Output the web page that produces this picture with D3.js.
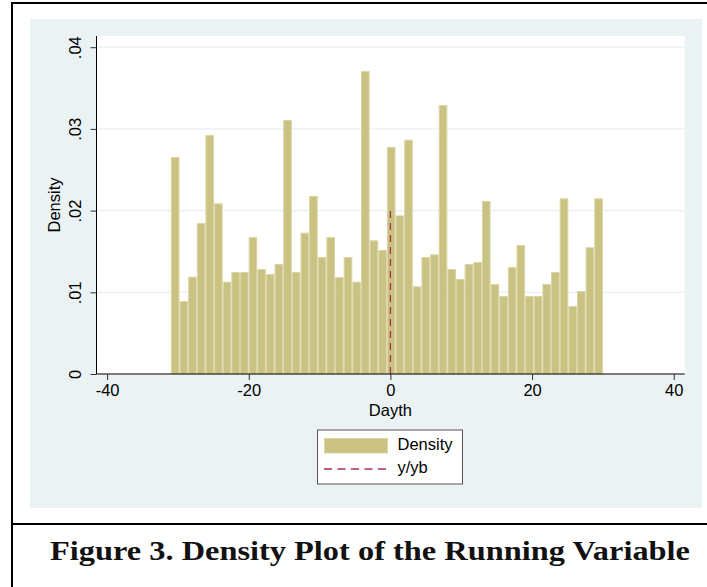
<!DOCTYPE html>
<html>
<head>
<meta charset="utf-8">
<script src="https://cdn.jsdelivr.net/npm/d3@7"></script>
<style>
  html, body { margin: 0; padding: 0; background: #ffffff; }
  svg { display: block; }
</style>
</head>
<body>
<script>
// ---- data ----
const binStart = -31;
const binWidth = 1.22;
const densities = [
  0.02656, 0.00893, 0.01191, 0.01848, 0.02925, 0.02089, 0.01130, 0.01248, 0.01248, 0.01677,
  0.01285, 0.01224, 0.01346, 0.03109, 0.01248, 0.01730, 0.02179, 0.01432, 0.01677, 0.01187,
  0.01432, 0.01130, 0.03710, 0.01636, 0.01518, 0.02778, 0.01942, 0.02868, 0.01073, 0.01432,
  0.01465, 0.03293, 0.01285, 0.01163, 0.01346, 0.01371, 0.02118, 0.01102, 0.00955, 0.01310,
  0.01579, 0.00955, 0.00955, 0.01102, 0.01248, 0.02150, 0.00832, 0.01016, 0.01551, 0.02150
];
const cutoffX = 0;
const cutoffTop = 0.02;
const xTicks = [-40, -20, 0, 20, 40];
const yTicks = [0, 0.01, 0.02, 0.03, 0.04];
const xTitle = "Dayth";
const yTitle = "Density";
const legendLabels = ["Density", "y/yb"];
const caption = "Figure 3. Density Plot of the Running Variable";

// ---- layout ----
const W = 707, H = 587;
const svg = d3.select("body").append("svg").attr("width", W).attr("height", H);

svg.append("rect").attr("x", 0).attr("y", 0).attr("width", W).attr("height", H).attr("fill", "#ffffff");
svg.append("rect").attr("x", 30).attr("y", 19).attr("width", 672).attr("height", 489).attr("fill", "#eaf2f3");

const plot = { left: 96.5, right: 684.7, top: 36, bottom: 374 };
svg.append("rect").attr("x", plot.left).attr("y", plot.top)
  .attr("width", plot.right - plot.left).attr("height", plot.bottom - plot.top).attr("fill", "#ffffff");

const x = d3.scaleLinear().domain([-41.5, 41.55]).range([plot.left, plot.right]);
const y = d3.scaleLinear().domain([0, 0.04137]).range([plot.bottom, plot.top]);

// gridlines
svg.append("g").selectAll("line").data(yTicks.filter(d => d > 0)).join("line")
  .attr("x1", plot.left).attr("x2", plot.right)
  .attr("y1", d => y(d)).attr("y2", d => y(d))
  .attr("stroke", "#e8eff1").attr("stroke-width", 1.2);

// bars
const bins = densities.map((v, i) => ({ x0: binStart + i * binWidth, x1: binStart + (i + 1) * binWidth, v }));
svg.append("g").selectAll("rect").data(bins).join("rect")
  .attr("x", d => x(d.x0) + 0.5)
  .attr("width", d => x(d.x1) - x(d.x0) - 1)
  .attr("y", d => y(d.v) + 0.5)
  .attr("height", d => y(0) - y(d.v) - 0.5)
  .attr("fill", "#cac282")
  .attr("stroke", "#dbd6a6")
  .attr("stroke-width", 1);

// cutoff dashed line
svg.append("line")
  .attr("x1", x(cutoffX)).attr("x2", x(cutoffX))
  .attr("y1", y(0)).attr("y2", y(cutoffTop))
  .attr("stroke", "#a8324f").attr("stroke-width", 1.3)
  .attr("stroke-dasharray", "7,5");

const fontFam = "'Liberation Sans', Arial, sans-serif";
const fs = 16.5;

// x axis
const xAxis = svg.append("g").attr("transform", `translate(0,${plot.bottom})`)
  .call(d3.axisBottom(x).tickValues(xTicks).tickSize(6).tickSizeOuter(0).tickFormat(d => String(d)));
xAxis.select(".domain").attr("stroke", "#000").attr("d", `M${plot.left},0H${plot.right}`);
xAxis.selectAll(".tick line").attr("stroke", "#333");
xAxis.selectAll("text").attr("font-family", fontFam).attr("font-size", fs).attr("fill", "#000")
  .attr("y", 22).attr("dy", "0");

// y axis
const yFmt = d => d === 0 ? "0" : d3.format(".2f")(d).replace(/^0/, "");
const yAxis = svg.append("g").attr("transform", `translate(${plot.left},0)`)
  .call(d3.axisLeft(y).tickValues(yTicks).tickSize(6).tickSizeOuter(0).tickFormat(yFmt));
yAxis.select(".domain").attr("stroke", "#000").attr("d", `M0,${plot.top}V${plot.bottom}`);
yAxis.selectAll(".tick line").attr("stroke", "#333");
yAxis.selectAll("text").attr("font-family", fontFam).attr("font-size", fs).attr("fill", "#000")
  .attr("transform", "rotate(-90)").attr("x", 0).attr("y", -15.5).attr("dy", "0")
  .attr("text-anchor", "middle");

// axis titles
svg.append("text").attr("x", x(0)).attr("y", 416).attr("text-anchor", "middle")
  .attr("font-family", fontFam).attr("font-size", fs).attr("fill", "#000").text(xTitle);
svg.append("text").attr("transform", `translate(59.5,${(plot.top + plot.bottom) / 2}) rotate(-90)`)
  .attr("text-anchor", "middle").attr("font-family", fontFam).attr("font-size", fs).attr("fill", "#000").text(yTitle);

// legend
const lg = svg.append("g");
lg.append("rect").attr("x", 317.5).attr("y", 430).attr("width", 145).attr("height", 54)
  .attr("fill", "#fff").attr("stroke", "#555").attr("stroke-width", 1);
lg.append("rect").attr("x", 324.5).attr("y", 438.5).attr("width", 63).attr("height", 14.5)
  .attr("fill", "#cac282").attr("stroke", "#dbd6a6");
lg.append("line").attr("x1", 324).attr("x2", 388).attr("y1", 469).attr("y2", 469)
  .attr("stroke", "#a8324f").attr("stroke-width", 1.3).attr("stroke-dasharray", "8,5.5");
lg.append("text").attr("x", 397.5).attr("y", 449.5).attr("font-family", fontFam).attr("font-size", fs)
  .attr("fill", "#000").text(legendLabels[0]);
lg.append("text").attr("x", 397.5).attr("y", 472.5).attr("font-family", fontFam).attr("font-size", fs)
  .attr("fill", "#000").text(legendLabels[1]);

// frame lines
svg.append("line").attr("x1", 12).attr("x2", W).attr("y1", 3).attr("y2", 3).attr("stroke", "#000").attr("stroke-width", 2);
svg.append("line").attr("x1", 12).attr("x2", 12).attr("y1", 2).attr("y2", H).attr("stroke", "#000").attr("stroke-width", 2);
svg.append("line").attr("x1", 11).attr("x2", W).attr("y1", 524).attr("y2", 524).attr("stroke", "#000").attr("stroke-width", 2);

// caption
svg.append("text").attr("x", 50).attr("y", 560)
  .attr("font-family", "'Liberation Serif', 'DejaVu Serif', serif").attr("font-weight", "bold")
  .attr("font-size", 26.5).attr("fill", "#111")
  .attr("textLength", 640).attr("lengthAdjust", "spacingAndGlyphs")
  .text(caption);
</script>
</body>
</html>
